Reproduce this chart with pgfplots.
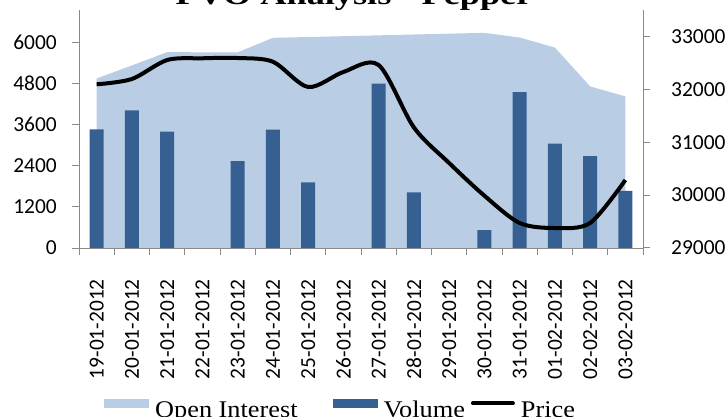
\documentclass[border=0pt]{standalone}
\usepackage{fontspec}
\usepackage{pgfplots}
\usepackage{pgfplotstable}
\pgfplotsset{compat=1.18}
\newfontfamily\tickfont{Carlito}
\newfontfamily\legfont[FakeStretch=1.1]{Liberation Serif}
\newfontfamily\titlefont[FakeStretch=1.3]{Liberation Serif}
\definecolor{oiblue}{HTML}{B9CDE5}
\definecolor{volblue}{HTML}{376092}
\definecolor{axgray}{HTML}{898989}

% idx: category position, oi: open interest, vol: volume, price
\pgfplotstableread{
idx oi   vol  price
0   4950 3466 32095
1   5330 4019 32195
2   5718 3400 32554
3   5715 0    32587
4   5712 2534 32592
5   6137 3457 32522
6   6161 1913 32044
7   6185 0    32328
8   6210 4797 32460
9   6234 1622 31280
10  6258 0    30607
11  6283 524  29989
12  6146 4553 29473
13  5854 3049 29378
14  4718 2680 29473
15  4427 1669 30286
}\pvo

\pgfplotsset{
  pvo base/.style={
    at={(79bp,169bp)}, anchor=south west,
    scale only axis, width=564bp, height=238bp,
    xmin=-0.5, xmax=15.5,
    axis line style={draw=axgray, line width=1bp, -},
    tick align=outside,
    major tick length=7bp, minor tick length=7bp,
    tick style={axgray, line width=1bp},
    tick label style={font=\tickfont\fontsize{21.5}{24}\selectfont},
    scaled y ticks=false,
    /pgf/number format/assume math mode=true,
    /pgf/number format/1000 sep={},
  },
}

\begin{document}
\begin{tikzpicture}
\begin{axis}[pvo base,
    ymin=0, ymax=6950,
    axis y line*=left, axis x line*=bottom,
    ytick={0,1200,...,6000},
    yticklabel style={anchor=east, inner sep=0pt, xshift=-15bp},
    xtick={0,...,15},
    major x tick style={draw=none},
    minor xtick={-0.5,0.5,...,15.5},
    xticklabels={19-01-2012,20-01-2012,21-01-2012,22-01-2012,23-01-2012,
      24-01-2012,25-01-2012,26-01-2012,27-01-2012,28-01-2012,29-01-2012,
      30-01-2012,31-01-2012,01-02-2012,02-02-2012,03-02-2012},
    xticklabel style={rotate=90, anchor=east, inner sep=0pt},
    xticklabel shift=24bp,
    legend columns=3,
    legend cell align=left,
    legend style={at={(0.0443,-0.7186)}, anchor=south west, draw=none, fill=none,
      inner sep=0pt,
      font=\legfont\fontsize{24}{26}\selectfont,
      nodes={inner sep=0pt},
      cells={anchor=base west},
      /tikz/every odd column/.style={column sep=6bp},
      /tikz/column 2/.style={column sep=35bp},
      /tikz/column 4/.style={column sep=6bp}},
]
\addplot[fill=oiblue, draw=none,
  legend image code/.code={\fill[oiblue] (0bp,9.5bp) rectangle (45bp,18.5bp);}]
  table[x=idx, y=oi]{\pvo} \closedcycle;
\addlegendentry{Open Interest}
\addplot[ybar, bar width=14bp, bar shift=0pt, fill=volblue, draw=none,
  legend image code/.code={\fill[volblue] (0bp,9.5bp) rectangle (45bp,18.5bp);}]
  table[x=idx, y=vol]{\pvo};
\addlegendentry{Volume}
\addlegendimage{legend image code/.code={\draw[black, line width=4bp, line cap=round] (2bp,14bp) -- (42bp,14bp);}}
\addlegendentry{Price}
\end{axis}

\begin{axis}[pvo base,
    ymin=29000, ymax=33500,
    axis y line*=right, axis x line=none,
    ytick={29000,30000,...,33000},
    yticklabel style={anchor=west, inner sep=0pt, xshift=21bp},
]
\addplot[black, line width=4bp, smooth, line join=round] table[x=idx, y=price]{\pvo};
\end{axis}

\node[anchor=base, font=\titlefont\bfseries\fontsize{28}{30}\selectfont] at (354bp,412bp) {PVO Analysis - Pepper};

\pgfresetboundingbox
\useasboundingbox (0,0) rectangle (727bp,417bp);
\end{tikzpicture}
\end{document}
